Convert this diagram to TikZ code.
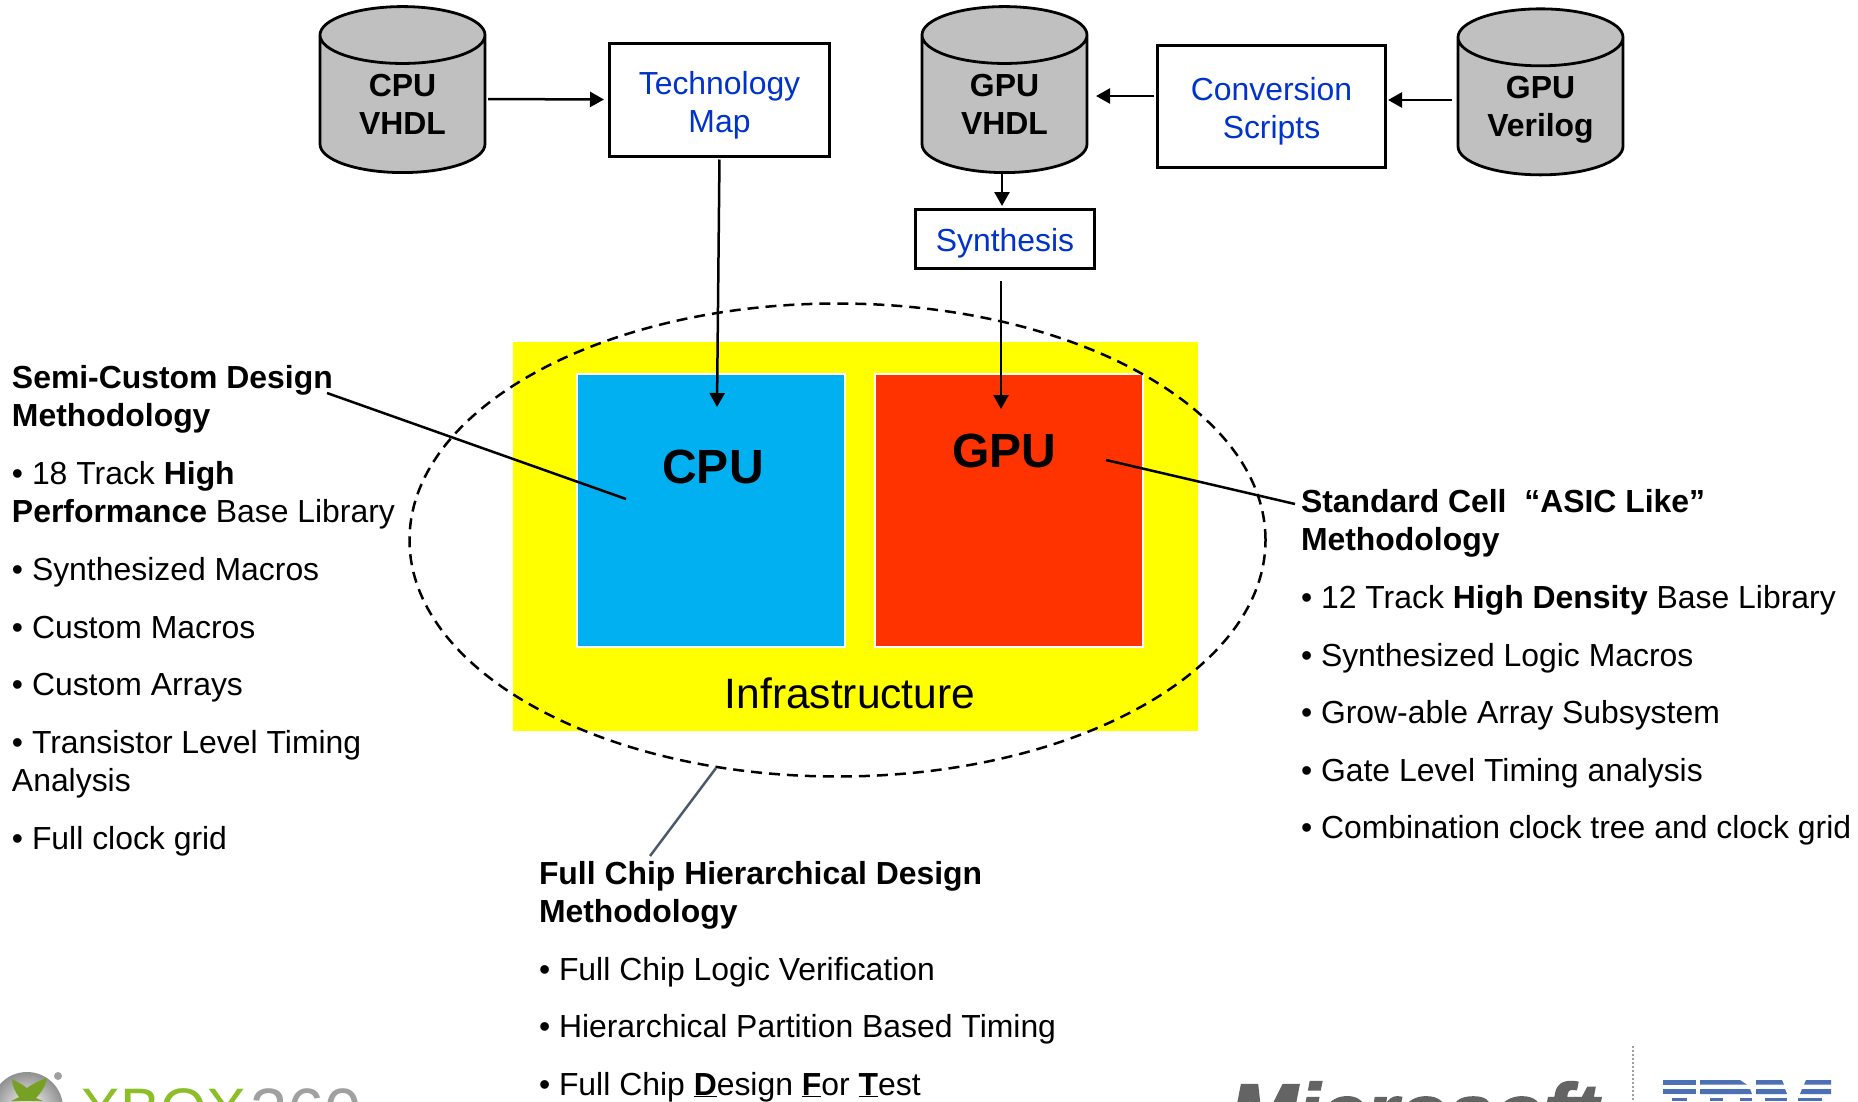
\documentclass[tikz,border=0pt]{standalone}
\usepackage{fontspec}
\setmainfont{Liberation Sans}
\newfontfamily\msfont[BoldItalicFeatures={FakeBold=2}]{Liberation Sans}
\usetikzlibrary{shapes.geometric,arrows.meta}
\definecolor{cylgray}{HTML}{C0C0C0}
\definecolor{boxblue}{HTML}{0033CC}
\definecolor{cpublue}{HTML}{00B0F0}
\definecolor{gpured}{HTML}{FF3300}
\definecolor{infrayellow}{HTML}{FFFF00}
\definecolor{leadgray}{HTML}{4D5A6B}
\definecolor{xgreen}{HTML}{8CBE28}
\definecolor{xgray}{HTML}{A0A0A0}
\definecolor{msgray}{HTML}{646464}
\definecolor{ibmblue}{HTML}{4B70B4}
\newcommand{\bodyfont}{\fontsize{31.9}{38}\selectfont}
\newcommand{\ul}[1]{\underline{#1}}
\newcommand{\boxstrut}{\rule{0pt}{33pt}}
\tikzset{
  x=1pt,y=-1pt,
  cyl/.style={shape=cylinder,shape border rotate=90,shape aspect=0.655,draw=black,line width=2.8pt,fill=cylgray,
    minimum width=165pt,minimum height=166pt,inner sep=0pt,outer sep=0pt,anchor=center,
    align=center,font=\bodyfont\bfseries},
  procbox/.style={draw=black,line width=3pt,fill=white,text=boxblue,align=center,inner sep=0pt,outer sep=0pt,font=\bodyfont},
  chip/.style={draw=white,line width=2pt,inner sep=0pt,outer sep=0pt,minimum width=268pt,minimum height=273pt},
  flow/.style={draw=black,line width=2.5pt,-{Triangle[length=14pt,width=15pt]}},
  lead/.style={draw=black,line width=2.5pt},
  txt/.style={anchor=base west,inner sep=0pt,outer sep=0pt,font=\bodyfont},
  head/.style={txt,font=\bodyfont\bfseries},
}
\begin{document}
\begin{tikzpicture}
\useasboundingbox (0,0) rectangle (1858,1101);
\clip (0,0) rectangle (1858,1101);
\fill[white] (0,0) rectangle (1858,1101);

% infrastructure
\node[fill=infrayellow,minimum width=685pt,minimum height=389pt,inner sep=0pt,outer sep=0pt] (infra) at (855.5,536.5) {};
\node[chip,fill=cpublue] (cpu) at (711,510.5) {};
\node[chip,fill=gpured] (gpu) at (1009,510.5) {};
\node[font=\fontsize{48}{54}\selectfont\bfseries,inner sep=0pt] (cpulabel) at (713,467) {CPU};
\node[font=\fontsize{48}{54}\selectfont\bfseries,inner sep=0pt] (gpulabel) at (1004,451) {GPU};
\node[font=\fontsize{42.5}{48}\selectfont,inner sep=0pt] (infralabel) at (850,693) {Infrastructure};
\node[draw=black,line width=2.5pt,dash pattern=on 11pt off 7pt,shape=ellipse,minimum width=856pt,minimum height=473pt,inner sep=0pt,outer sep=0pt] (scope) at (837.5,540) {};

% top row
\node[cyl] (cpuv) at (402.5,104.5) {CPU\\VHDL};
\node[cyl] (gpuv) at (1004.5,104.5) {GPU\\VHDL};
\node[cyl] (gpuver) at (1540.5,106.8) {GPU\\\smash{\makebox[87pt][c]{Verilog}}};
\node[procbox,minimum width=220pt,minimum height=113pt] (tech) at (719.5,100) {\boxstrut Technology\\Map};
\node[procbox,minimum width=228pt,minimum height=122pt] (conv) at (1271.5,106.5) {\boxstrut Conversion\\Scripts};
\node[procbox,minimum width=179pt,minimum height=59pt] (syn) at (1005,239) {\rule{0pt}{31pt}Synthesis};

% connector end points
\coordinate (cpuout) at (488,99);
\coordinate (techin) at (604,99.5);
\coordinate (cpuin) at (717,407);
\coordinate (gpuin) at (1001,409);
\coordinate (synout) at (1001,281);
\coordinate (synin) at (1002,206);
\coordinate (cylout) at (1002,173);
\coordinate (convout) at (1154,96);
\coordinate (gpuvin) at (1096,96);
\coordinate (verout) at (1452,100);
\coordinate (convin) at (1388,100);
\coordinate (semia) at (327,393);
\coordinate (semib) at (626,499);
\coordinate (stda) at (1295,504);
\coordinate (stdb) at (1106,460);
\coordinate (fulla) at (716,768);
\coordinate (fullb) at (650,856);

\draw[flow] (cpuout) -- (techin);
\draw[flow,shorten <=3pt] (tech.south) -- (cpuin);
\draw[flow] (cylout) -- (synin);
\draw[flow] (synout) -- (gpuin);
\draw[flow] (convout) -- (gpuvin);
\draw[flow] (verout) -- (convin);
\draw[lead] (semia) -- (semib);
\draw[lead] (stda) -- (stdb);
\draw[draw=leadgray,line width=2.5pt] (fulla) -- (fullb);

% left text
\node[head] (l1) at (12,388) {Semi-Custom Design};
\node[head] (l2) at (12,426) {Methodology};
\node[txt] (l3) at (12,484) {• 18 Track \textbf{High}};
\node[txt] (l4) at (12,522) {\textbf{Performance} Base Library};
\node[txt] (l5) at (12,580) {• Synthesized Macros};
\node[txt] (l6) at (12,638) {• Custom Macros};
\node[txt] (l7) at (12,695) {• Custom Arrays};
\node[txt] (l8) at (12,753) {• Transistor Level Timing};
\node[txt] (l9) at (12,791) {Analysis};
\node[txt] (l10) at (12,849) {• Full clock grid};

% right text
\node[head] (r1) at (1301,512) {Standard Cell\ \ “ASIC Like”};
\node[head] (r2) at (1301,550) {Methodology};
\node[txt] (r3) at (1301,608) {• 12 Track \textbf{High Density} Base Library};
\node[txt] (r4) at (1301,666) {• Synthesized Logic Macros};
\node[txt] (r5) at (1301,723) {• Grow-able Array Subsystem};
\node[txt] (r6) at (1301,781) {• Gate Level Timing analysis};
\node[txt] (r7) at (1301,838) {• Combination clock tree and clock grid};

% bottom text
\node[head] (b1) at (539,884) {Full Chip Hierarchical Design};
\node[head] (b2) at (539,922) {Methodology};
\node[txt] (b3) at (539,980) {• Full Chip Logic Verification};
\node[txt] (b4) at (539,1037) {• Hierarchical Partition Based Timing};
\node[txt] (b5) at (539,1095) {• Full Chip \textbf{\ul{D}}esign \textbf{\ul{F}}or \textbf{\ul{T}}est};

% logos (cut off by the page edge)
\shade[inner color=white,outer color=xgray!90!black] (27,1108) circle (36);
\fill[xgreen!85!black] (12,1079) .. controls (20,1083) and (24,1086) .. (27,1088) .. controls (31,1085) and (38,1081) .. (47,1078) .. controls (46,1086) and (40,1094) .. (36,1098) -- (43,1101) -- (11,1101) -- (19,1097) .. controls (15,1092) and (12,1085) .. (12,1079) -- cycle;
\fill[xgray] (58,1076) circle (4);
\node[anchor=base west,inner sep=0pt,text=xgreen,font=\fontsize{60}{60}\selectfont] (xbox) at (80,1130) {XBOX};
\node[anchor=base west,inner sep=0pt,text=xgray,font=\fontsize{67}{67}\selectfont] (x360) at (250,1135) {360};
\node[anchor=base west,inner sep=0pt,text=msgray,font=\msfont\fontsize{82}{82}\selectfont\bfseries\itshape] (ms) at (1229,1141) {Microsoft};
\draw[xgray,line width=2pt,dotted] (1633,1046) -- (1633,1101);
% IBM stripes
\fill[ibmblue] (1663,1080) rectangle (1696,1084.7);
\fill[ibmblue] (1700,1080) -- (1740,1080) -- (1747,1084.7) -- (1700,1084.7) -- cycle;
\fill[ibmblue] (1756,1080) -- (1782,1080) -- (1784,1084.7) -- (1756,1084.7) -- cycle;
\fill[ibmblue] (1806,1080) -- (1831,1080) -- (1831,1084.7) -- (1804,1084.7) -- cycle;
\fill[ibmblue] (1663,1089) rectangle (1696,1094);
\fill[ibmblue] (1700,1089) -- (1750,1089) -- (1752,1094) -- (1700,1094) -- cycle;
\fill[ibmblue] (1756,1089) -- (1785,1089) -- (1787,1094) -- (1756,1094) -- cycle;
\fill[ibmblue] (1802,1089) -- (1831,1089) -- (1831,1094) -- (1800,1094) -- cycle;
\fill[ibmblue] (1672,1098) rectangle (1687,1101);
\fill[ibmblue] (1710,1098) rectangle (1723,1101);
\fill[ibmblue] (1740,1098) rectangle (1752,1101);
\fill[ibmblue] (1765,1098) rectangle (1787,1101);
\fill[ibmblue] (1798,1098) rectangle (1822,1101);
\end{tikzpicture}
\end{document}
